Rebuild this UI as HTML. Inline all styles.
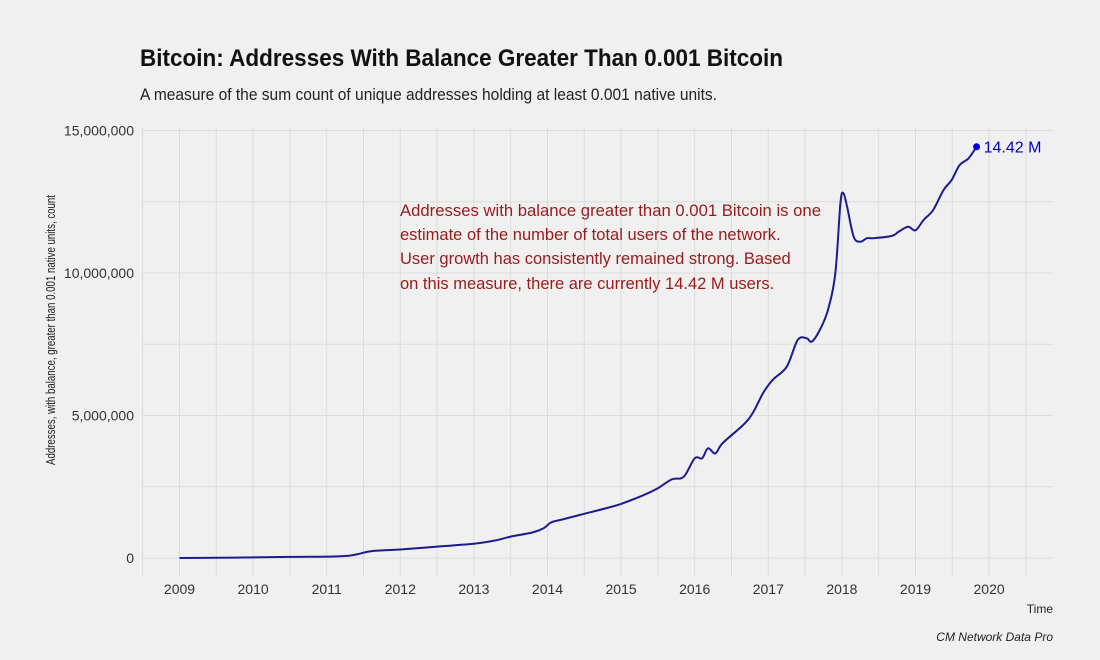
<!DOCTYPE html>
<html><head><meta charset="utf-8"><style>
html,body{margin:0;padding:0;background:#f0f0f0;}
svg{display:block;font-family:"Liberation Sans",sans-serif;}
</style></head><body>
<svg id="chart" width="1100" height="660" viewBox="0 0 1100 660" xmlns="http://www.w3.org/2000/svg">
<rect x="0" y="0" width="1100" height="660" fill="#f0f0f0"/>
<text x="140" y="66" font-size="24" font-weight="bold" fill="#111" textLength="643" lengthAdjust="spacingAndGlyphs">Bitcoin: Addresses With Balance Greater Than 0.001 Bitcoin</text>
<text x="140" y="100" font-size="17" fill="#222" textLength="577" lengthAdjust="spacingAndGlyphs">A measure of the sum count of unique addresses holding at least 0.001 native units.</text>
<g id="grid"></g>
<g id="axes"></g>
<g id="series"></g>
<g font-size="16.5" fill="#9b1a1a">
<text x="400" y="216" textLength="421" lengthAdjust="spacingAndGlyphs">Addresses with balance greater than 0.001 Bitcoin is one</text>
<text x="400" y="240">estimate of the number of total users of the network.</text>
<text x="400" y="264">User growth has consistently remained strong. Based</text>
<text x="400" y="289">on this measure, there are currently 14.42 M users.</text>
</g>
<text x="0" y="0" transform="translate(55,330) rotate(-90)" text-anchor="middle" font-size="13" fill="#222" textLength="270" lengthAdjust="spacingAndGlyphs">Addresses, with balance, greater than 0.001 native units, count</text>
<text x="1053" y="613" text-anchor="end" font-size="12" fill="#222">Time</text>
<text x="1053" y="641" text-anchor="end" font-size="12" font-style="italic" fill="#222">CM Network Data Pro</text>
</svg>
<script>
const years = [2009,2010,2011,2012,2013,2014,2015,2016,2017,2018,2019,2020];
const yTicks = [0,5,10,15];
const yTickLabels = ["0","5,000,000","10,000,000","15,000,000"];
const dates = [2009.0,2009.5,2010.0,2010.5,2011.0,2011.3,2011.45,2011.6,2012.0,2012.5,2013.0,2013.3,2013.5,2013.8,2013.95,2014.05,2014.2,2014.5,2014.8,2015.0,2015.3,2015.5,2015.69,2015.85,2016.0,2016.1,2016.18,2016.28,2016.38,2016.66,2016.79,2016.93,2017.06,2017.25,2017.4,2017.52,2017.59,2017.7,2017.81,2017.91,2017.98,2018.02,2018.07,2018.16,2018.25,2018.34,2018.43,2018.68,2018.77,2018.9,2019.0,2019.11,2019.24,2019.38,2019.49,2019.6,2019.72,2019.83];
const values = [0,0.01,0.02,0.04,0.05,0.08,0.15,0.24,0.3,0.4,0.5,0.62,0.75,0.9,1.05,1.25,1.35,1.55,1.75,1.9,2.2,2.45,2.76,2.85,3.5,3.5,3.85,3.67,4.03,4.67,5.09,5.79,6.25,6.71,7.65,7.71,7.59,8.0,8.7,9.99,12.45,12.8,12.33,11.27,11.1,11.22,11.22,11.3,11.45,11.62,11.5,11.86,12.21,12.91,13.26,13.79,14.02,14.43];
const lastLabel = "14.42 M";

const NS="http://www.w3.org/2000/svg";
const X0=179.5, PX=73.6, Y0=558, PY=28.5, L=142, R=1053, T=127, B=577;
function xs(v){return X0+(v-2009)*PX;}
function ys(v){return Y0-v*PY;}
function mk(tag,attrs,parent){const e=document.createElementNS(NS,tag);for(const k in attrs)e.setAttribute(k,attrs[k]);parent.appendChild(e);return e;}
const grid=document.getElementById('grid'), axes=document.getElementById('axes'), series=document.getElementById('series');
for(let y=2008.5;y<=2020.9;y+=0.5){
  const x=xs(y); if(x<L-1||x>R+1) continue;
  const ln=mk('line',{x1:x,x2:x,y1:T,y2:B,stroke:'#dcdcdc','stroke-width':1},grid);
  
  
}
for(let v=0;v<=15;v+=2.5){
  const y=ys(v);
  const ln=mk('line',{x1:L,x2:R,y1:y,y2:y,stroke:'#dcdcdc','stroke-width':1},grid);
  
  
}
years.forEach(yr=>{
  const t=mk('text',{x:xs(yr),y:594,'text-anchor':'middle','font-size':14,fill:'#333'},axes);
  t.textContent=String(yr);
  
  
});
yTicks.forEach((v,i)=>{
  const t=mk('text',{x:134,y:ys(v)+5,'text-anchor':'end','font-size':14,fill:'#333'},axes);
  t.textContent=yTickLabels[i];
  
  
});
const pts=dates.map((dt,i)=>[xs(dt),ys(values[i])]);
let d='M'+pts[0][0].toFixed(1)+','+pts[0][1].toFixed(1);
for(let i=0;i<pts.length-1;i++){
  const p0=pts[Math.max(0,i-1)],p1=pts[i],p2=pts[i+1],p3=pts[Math.min(pts.length-1,i+2)];
  const k=1/6;
  const c1=[p1[0]+(p2[0]-p0[0])*k,p1[1]+(p2[1]-p0[1])*k];
  const c2=[p2[0]-(p3[0]-p1[0])*k,p2[1]-(p3[1]-p1[1])*k];
  d+='C'+c1[0].toFixed(1)+','+c1[1].toFixed(1)+' '+c2[0].toFixed(1)+','+c2[1].toFixed(1)+' '+p2[0].toFixed(1)+','+p2[1].toFixed(1);
}
const path=mk('path',{d:d,fill:'none',stroke:'#1c1c8c','stroke-width':2,'stroke-linejoin':'round'},series);


const n=dates.length-1;
const dot=mk('circle',{cx:xs(dates[n]),cy:ys(values[n]),r:3.5,fill:'#0000dd'},series);


const lab=mk('text',{x:xs(dates[n])+7,y:ys(values[n])+6,'font-size':16,fill:'#0000cc'},series);
lab.textContent=lastLabel;


</script>
</body></html>
